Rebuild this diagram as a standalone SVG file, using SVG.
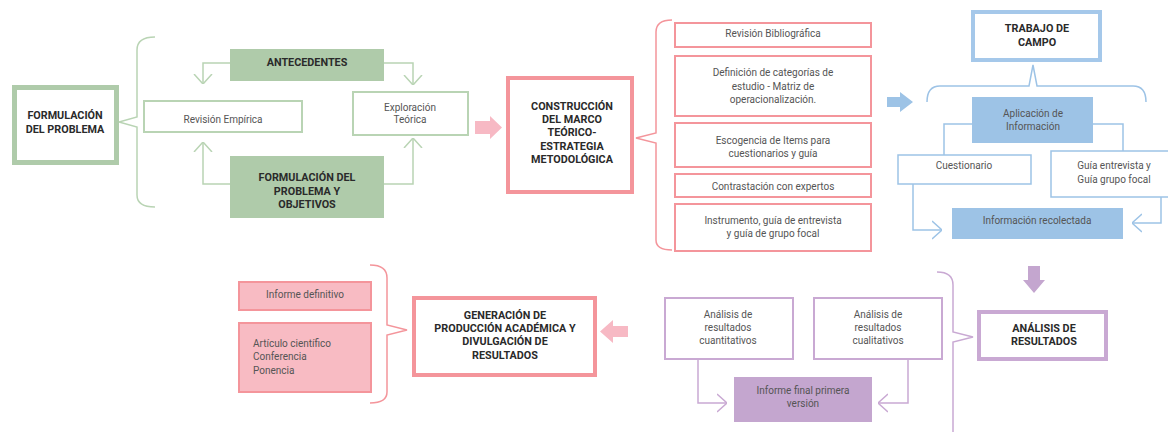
<svg xmlns="http://www.w3.org/2000/svg" width="1168" height="432" viewBox="0 0 1168 432">
<defs>
<style>
text{font-family:Roboto,"Liberation Sans",sans-serif;font-size:10px;text-anchor:middle}
.b{font-weight:bold;fill:#2a2a2a;font-size:10.8px}
.n{fill:#555}
.gT{fill:#fff;stroke:#AFCBAA;stroke-width:5}
.gt{fill:#fff;stroke:#B9D4B4;stroke-width:2}
.gF{fill:#AFCBAA}
.pT{fill:#fff;stroke:#F4959B;stroke-width:4}
.pt{fill:#fff;stroke:#F4959B;stroke-width:2}
.pF{fill:#F8BBC3;stroke:#F4959B;stroke-width:2}
.bT{fill:#fff;stroke:#A5C8EA;stroke-width:4}
.bt{fill:#fff;stroke:#9DC3E6;stroke-width:1.5}
.bF{fill:#9DC3E6}
.uT{fill:#fff;stroke:#C9A9D3;stroke-width:4}
.ut{fill:#fff;stroke:#C9A9D3;stroke-width:2}
.uF{fill:#C4A6CF}
.cg{fill:none;stroke:#B9D4B4;stroke-width:1.5}
.cp{fill:none;stroke:#F4959B;stroke-width:1.5}
.cb{fill:none;stroke:#9DC3E6;stroke-width:1.5}
.cu{fill:none;stroke:#C9A9D3;stroke-width:1.5}
</style>
<marker id="mg" viewBox="0 0 10 20" refX="10" refY="10" markerWidth="10" markerHeight="20" orient="auto" markerUnits="userSpaceOnUse"><path d="M0,1 L10,10 L0,19" fill="none" stroke="#B9D4B4" stroke-width="1.5"/></marker>
<marker id="mb" viewBox="0 0 10 20" refX="10" refY="10" markerWidth="10" markerHeight="20" orient="auto" markerUnits="userSpaceOnUse"><path d="M0,1 L10,10 L0,19" fill="none" stroke="#9DC3E6" stroke-width="1.5"/></marker>
<marker id="mu" viewBox="0 0 10 20" refX="10" refY="10" markerWidth="10" markerHeight="20" orient="auto" markerUnits="userSpaceOnUse"><path d="M0,1 L10,10 L0,19" fill="none" stroke="#C9A9D3" stroke-width="1.5"/></marker>
</defs>
<rect width="1168" height="432" fill="#fff"/>

<g id="connectors">
<path class="cg" d="M155,37 Q137,37 137,50 L137,117 L119,122 L137,127 L137,195 Q137,207 155,207"/>
<path class="cg" d="M230,63 H203 V84" marker-end="url(#mg)"/>
<path class="cg" d="M384,63 H413 V85" marker-end="url(#mg)"/>
<path class="cg" d="M230,184 H203 V142" marker-end="url(#mg)"/>
<path class="cg" d="M384,184 H413 V138" marker-end="url(#mg)"/>
<polygon fill="#F7B9C4" points="475,121 490,121 490,116 502,127.5 490,139 490,134 475,134"/>
<path class="cp" d="M672,20 Q656,20 656,32 L656,133 L636,138 L656,143 L656,240 Q656,250 672,250"/>
<polygon fill="#9DC3E6" points="887,97 900,97 900,92 913,102 900,112 900,107 887,107"/>
<path class="cb" d="M927,102 Q927,86 940,86 L1029,86 L1033,65 L1037,86 L1133,86 Q1146,86 1146,102"/>
<path class="cb" d="M972,124 H944 V155"/>
<path class="cb" d="M1093,124 H1123 V151"/>
<path class="cb" d="M913,184 V230 H942" marker-end="url(#mb)"/>
<path class="cb" d="M1161,197 V223 H1132" marker-end="url(#mb)"/>
<polygon fill="#C4A6CF" points="1028,266 1040,266 1040,280 1045,280 1034,293 1023,280 1028,280"/>
<path class="cu" d="M937,272 Q953,272 953,285 L953,332 L973,337 L953,342 L953,432"/>
<path class="cu" d="M698,359 V403 H727" marker-end="url(#mu)"/>
<path class="cu" d="M908,359 V403 H878" marker-end="url(#mu)"/>
<polygon fill="#F7B9C4" points="628,326 613,326 613,320 600,331.5 613,343 613,337 628,337"/>
<path class="cp" d="M370,265 Q387,265 387,278 L387,325 L407,330 L387,335 L387,392 Q387,403 370,403"/>
</g>

<g id="formulacion">
<rect class="gT" x="14.5" y="87.5" width="102" height="75"/>
<text class="b" x="65" y="118.5">FORMULACIÓN</text>
<text class="b" x="65" y="132.5">DEL PROBLEMA</text>
</g>
<g id="antecedentes">
<rect class="gF" x="230" y="49" width="154" height="32"/>
<text class="b" x="307" y="66">ANTECEDENTES</text>
</g>
<g id="revision-empirica">
<rect class="gt" x="144" y="101" width="158" height="31"/>
<text class="n" x="223" y="122.5">Revisión Empírica</text>
</g>
<g id="exploracion">
<rect class="gt" x="353" y="92" width="115" height="43"/>
<text class="n" x="410" y="110.5">Exploración</text>
<text class="n" x="410" y="122.5">Teórica</text>
</g>
<g id="formulacion-objetivos">
<rect class="gF" x="230" y="156" width="154" height="62"/>
<text class="b" x="307" y="180.5">FORMULACIÓN DEL</text>
<text class="b" x="307" y="194.5">PROBLEMA Y</text>
<text class="b" x="307" y="208">OBJETIVOS</text>
</g>

<g id="construccion">
<rect class="pT" x="508" y="78" width="124" height="114"/>
<text class="b" x="572" y="110">CONSTRUCCIÓN</text>
<text class="b" x="572" y="123">DEL MARCO</text>
<text class="b" x="572" y="136">TEÓRICO-</text>
<text class="b" x="572" y="149.5">ESTRATEGIA</text>
<text class="b" x="572" y="163">METODOLÓGICA</text>
</g>
<g id="revision-bibliografica">
<rect class="pt" x="675" y="23" width="196" height="24"/>
<text class="n" x="773" y="37">Revisión Bibliográfica</text>
</g>
<g id="definicion">
<rect class="pt" x="675" y="56" width="196" height="60"/>
<text class="n" x="773" y="76">Definición de categorías de</text>
<text class="n" x="773" y="89.5">estudio - Matriz de</text>
<text class="n" x="773" y="102.5">operacionalización.</text>
</g>
<g id="escogencia">
<rect class="pt" x="675" y="123" width="196" height="44"/>
<text class="n" x="773" y="143.5">Escogencia de Items para</text>
<text class="n" x="773" y="157">cuestionarios y guía</text>
</g>
<g id="contrastacion">
<rect class="pt" x="675" y="174" width="196" height="23"/>
<text class="n" x="773" y="189.5">Contrastación con expertos</text>
</g>
<g id="instrumento">
<rect class="pt" x="675" y="204" width="196" height="47"/>
<text class="n" x="773" y="224">Instrumento, guía de entrevista</text>
<text class="n" x="773" y="237">y guía de grupo focal</text>
</g>

<g id="trabajo-campo">
<rect class="bT" x="973" y="12" width="127" height="48"/>
<text class="b" x="1037" y="32">TRABAJO DE</text>
<text class="b" x="1037" y="46">CAMPO</text>
</g>
<g id="aplicacion">
<rect class="bF" x="972" y="97" width="121" height="46"/>
<text class="n" x="1033" y="117">Aplicación de</text>
<text class="n" x="1033" y="129.5">Información</text>
</g>
<g id="cuestionario">
<rect class="bt" x="898" y="155" width="133" height="29"/>
<text class="n" x="964" y="168.5">Cuestionario</text>
</g>
<g id="guia">
<rect class="bt" x="1051" y="151" width="125" height="46"/>
<text class="n" x="1114" y="168.5">Guía entrevista y</text>
<text class="n" x="1114" y="183">Guía grupo focal</text>
</g>
<g id="informacion-recolectada">
<rect class="bF" x="952" y="208" width="171" height="31"/>
<text class="n" x="1037" y="223.5">Información recolectada</text>
</g>

<g id="analisis">
<rect class="uT" x="979" y="312" width="127" height="47"/>
<text class="b" x="1044" y="332">ANÁLISIS DE</text>
<text class="b" x="1044" y="344.5">RESULTADOS</text>
</g>
<g id="cuantitativos">
<rect class="ut" x="665" y="298" width="128" height="61"/>
<text class="n" x="728" y="317.5">Análisis de</text>
<text class="n" x="728" y="331">resultados</text>
<text class="n" x="728" y="343.5">cuantitativos</text>
</g>
<g id="cualitativos">
<rect class="ut" x="814" y="298" width="128" height="61"/>
<text class="n" x="878" y="317.5">Análisis de</text>
<text class="n" x="878" y="331">resultados</text>
<text class="n" x="878" y="343.5">cualitativos</text>
</g>
<g id="informe-final">
<rect class="uF" x="734" y="377" width="138" height="45"/>
<text class="n" x="803" y="393.5">Informe final primera</text>
<text class="n" x="803" y="407">versión</text>
</g>

<g id="generacion">
<rect class="pT" x="414" y="298" width="181" height="77"/>
<text class="b" x="505" y="318.5">GENERACIÓN DE</text>
<text class="b" x="505" y="332">PRODUCCIÓN ACADÉMICA Y</text>
<text class="b" x="505" y="345">DIVULGACIÓN DE</text>
<text class="b" x="505" y="358.5">RESULTADOS</text>
</g>
<g id="informe-definitivo">
<rect class="pF" x="239" y="282" width="132" height="28"/>
<text class="n" x="305" y="298">Informe definitivo</text>
</g>
<g id="articulo">
<rect class="pF" x="239" y="323" width="132" height="69"/>
<text class="n" x="253" y="347" style="text-anchor:start">Artículo científico</text>
<text class="n" x="253" y="360" style="text-anchor:start">Conferencia</text>
<text class="n" x="253" y="373.5" style="text-anchor:start">Ponencia</text>
</g>
</svg>
